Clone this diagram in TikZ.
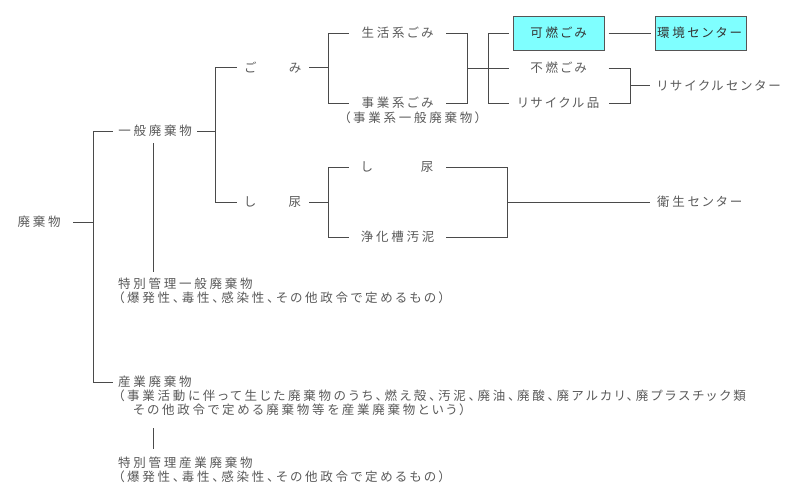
\documentclass[tikz,border=0pt]{standalone}
\usepackage{fontspec}
\newfontfamily\jp{Noto Sans CJK JP}[LetterSpace=22,RawFeature=+palt]
\definecolor{txtgray}{HTML}{5A5A5A}
\definecolor{boxtxt}{HTML}{333333}
\definecolor{linecol}{HTML}{4A4A4A}
\definecolor{cyanfill}{HTML}{7FFFFF}
\definecolor{boxedge}{HTML}{555555}
\begin{document}
\begin{tikzpicture}[x=1pt,y=-1pt,
  txt/.style={font=\jp\fontsize{12.5}{14}\selectfont, text=txtgray, text height=10.5pt, text depth=1.5pt, inner ysep=6pt},
  lbl/.style={txt, anchor=west, inner xsep=5pt},
  col/.style={txt, inner xsep=0pt, minimum width=#1},
  cbox/.style={txt, text=boxtxt, draw=boxedge, fill=cyanfill, minimum width=91pt, minimum height=34pt, inner ysep=2pt, outer xsep=4.5pt, line width=0.8pt},
  ln/.style={draw=linecol, line width=1pt}]
\fill[white] (0,0) rectangle (800,499);
\path[use as bounding box] (0,0) rectangle (800,499);
% junction columns
\coordinate (trunk) at (93,0);
\coordinate (v1) at (153,0);
\coordinate (b1) at (215,0);
\coordinate (b2) at (328,0);
\coordinate (b3) at (467,0);
\coordinate (b4) at (488,0);
\coordinate (b5) at (630,0);
\coordinate (b6) at (507,0);
% nodes
\node[col=68pt] (haiki) at (39,222) {廃棄物};
\node[col=84pt] (ippan) at (155,131) {一般廃棄物};
\node[col=72pt] (gomi) at (273,67.5) {ご　　み};
\node[col=72pt] (shinyo) at (273,202) {し　　尿};
\node[col=97pt] (seikatsu) at (397.5,33) {生活系ごみ};
\node[col=97pt] (jigyo) at (397.5,103) {事業系ごみ};
\node[lbl] (jigyod) at (339,118) {（事業系一般廃棄物）};
\node[cbox] (kanen) at (558.5,33) {可燃ごみ};
\node[cbox, inner xsep=2pt, text width=87pt, align=left] (kankyo) at (700.5,33) {環境センター};
\node[col=91pt, outer xsep=4.5pt] (fuen) at (558.5,68) {不燃ごみ};
\node[col=91pt, outer xsep=4.5pt] (recycle) at (558.5,103) {リサイクル品};
\node[lbl, inner xsep=7pt] (rc) at (650,85.5) {リサイクルセンター};
\node[col=97pt] (shi2) at (397.5,167) {し　　　尿};
\node[col=97pt] (joka) at (397.5,237) {浄化槽汚泥};
\node[lbl, inner xsep=7pt] (eisei) at (650,202) {衛生センター};
\node[lbl] (tokI) at (113,284) {特別管理一般廃棄物};
\node[lbl] (tokId) at (113,298) {（爆発性、毒性、感染性、その他政令で定めるもの）};
\node[lbl] (sang) at (113,382) {産業廃棄物};
\node[lbl] (sangd1) at (113,396) {（事業活動に伴って生じた廃棄物のうち、燃え殻、汚泥、廃油、廃酸、廃アルカリ、廃プラスチック類};
\node[lbl] (sangd2) at (128,410) {その他政令で定める廃棄物等を産業廃棄物という）};
\node[lbl] (tokS) at (113,463) {特別管理産業廃棄物};
\node[lbl] (tokSd) at (113,477) {（爆発性、毒性、感染性、その他政令で定めるもの）};
% connectors
\draw[ln] (haiki.east) -- (haiki.east -| trunk);
\draw[ln] (ippan.west) -- (ippan.west -| trunk) -- (sang.west -| trunk) -- (sang.west);
\draw[ln] (ippan.south -| v1) -- (tokI.north -| v1);
\draw[ln] ([yshift=-6pt]sangd2.south -| v1) -- ([yshift=2pt]tokS.north -| v1);
\draw[ln] (ippan.east) -- (ippan.east -| b1);
\draw[ln] (gomi.west) -- (gomi.west -| b1) -- (shinyo.west -| b1) -- (shinyo.west);
\draw[ln] (gomi.east) -- (gomi.east -| b2);
\draw[ln] (seikatsu.west) -- (seikatsu.west -| b2) -- (jigyo.west -| b2) -- (jigyo.west);
\draw[ln] (seikatsu.east) -- (seikatsu.east -| b3) -- (jigyo.east -| b3) -- (jigyo.east);
\draw[ln] (fuen.west -| b3) -- (fuen.west);
\draw[ln] (kanen.west) -- (kanen.west -| b4) -- (recycle.west -| b4) -- (recycle.west);
\draw[ln] (kanen.east) -- (kankyo.west);
\draw[ln] (fuen.east) -- (fuen.east -| b5) -- (recycle.east -| b5) -- (recycle.east);
\draw[ln] (rc.west -| b5) -- (rc.west);
\draw[ln] (shinyo.east) -- (shinyo.east -| b2);
\draw[ln] (shi2.west) -- (shi2.west -| b2) -- (joka.west -| b2) -- (joka.west);
\draw[ln] (shi2.east) -- (shi2.east -| b6) -- (joka.east -| b6) -- (joka.east);
\draw[ln] (eisei.west -| b6) -- (eisei.west);
\end{tikzpicture}
\end{document}
